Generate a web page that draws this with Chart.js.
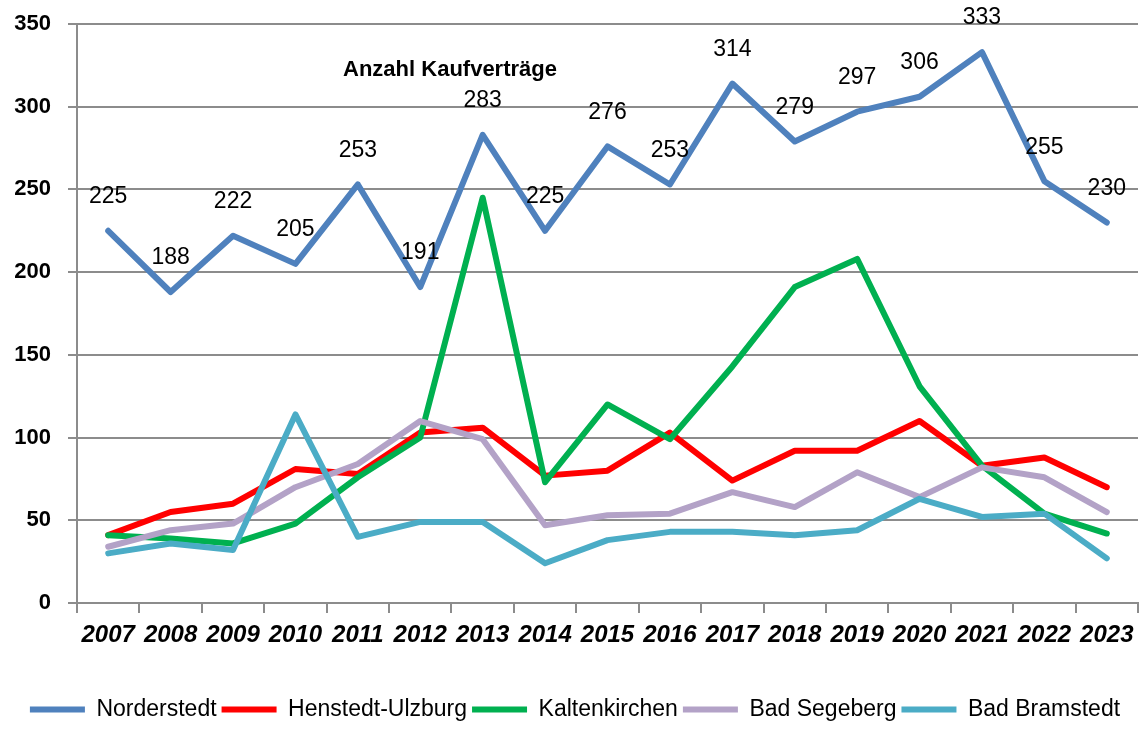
<!DOCTYPE html>
<html>
<head>
<meta charset="utf-8">
<script src="https://cdn.jsdelivr.net/npm/chart.js@4"></script>
<style>
  body { margin: 0; background: #fff; }
  #wrap { width: 1145px; height: 731px; position: relative; }
</style>
</head>
<body>
<div id="wrap"><canvas id="kaufChart"></canvas></div>
<script>
const YEARS = ["2007", "2008", "2009", "2010", "2011", "2012", "2013", "2014", "2015", "2016", "2017", "2018", "2019", "2020", "2021", "2022", "2023"];
const NORDERSTEDT = [225, 188, 222, 205, 253, 191, 283, 225, 276, 253, 314, 279, 297, 306, 333, 255, 230];
const HENSTEDT_ULZBURG = [41, 55, 60, 81, 78, 103, 106, 77, 80, 103, 74, 92, 92, 110, 83, 88, 70];
const KALTENKIRCHEN = [41, 39, 36, 48, 76, 100, 245, 73, 120, 99, 143, 191, 208, 131, 83, 54, 42];
const BAD_SEGEBERG = [34, 44, 48, 70, 84, 110, 99, 47, 53, 54, 67, 58, 79, 64, 82, 76, 55];
const BAD_BRAMSTEDT = [30, 36, 32, 114, 40, 49, 49, 24, 38, 43, 43, 41, 44, 63, 52, 54, 27];
const Y_TICKS = [0, 50, 100, 150, 200, 250, 300, 350];
const CHART_TITLE = "Anzahl Kaufverträge";

const GRID = "#8c8c8c";
const SANS = "'Liberation Sans', Arial, sans-serif";

function series(label, data, color, order) {
  return {
    label: label,
    data: data,
    borderColor: color,
    backgroundColor: color,
    borderWidth: 6,
    borderJoinStyle: "round",
    borderCapStyle: "round",
    pointRadius: 0,
    pointStyle: "line",
    tension: 0,
    order: order
  };
}

// value labels above the Norderstedt line + title inside the plot
const labelPlugin = {
  id: "valueLabels",
  afterDatasetsDraw(chart) {
    const ctx = chart.ctx;
    const meta = chart.getDatasetMeta(0);
    ctx.save();
    ctx.fillStyle = "#000";
    ctx.font = "23px " + SANS;
    ctx.textAlign = "center";
    ctx.textBaseline = "middle";
    meta.data.forEach((pt, i) => {
      ctx.fillText(String(NORDERSTEDT[i]), pt.x, pt.y - 34);
    });
    const area = chart.chartArea;
    ctx.font = "bold 22px " + SANS;
    ctx.fillText(CHART_TITLE, area.left + 373, area.top + 46);
    ctx.restore();
  }
};

new Chart(document.getElementById("kaufChart").getContext("2d"), {
  type: "line",
  data: {
    labels: YEARS,
    datasets: [
      series("Norderstedt", NORDERSTEDT, "#4f81bd", 5),
      series("Henstedt-Ulzburg", HENSTEDT_ULZBURG, "#ff0000", 4),
      series("Kaltenkirchen", KALTENKIRCHEN, "#00b050", 3),
      series("Bad Segeberg", BAD_SEGEBERG, "#b3a2c7", 2),
      series("Bad Bramstedt", BAD_BRAMSTEDT, "#4bacc6", 1)
    ]
  },
  options: {
    responsive: true,
    maintainAspectRatio: false,
    animation: false,
    layout: { padding: { left: 12, right: 7, top: 0, bottom: 0 } },
    plugins: {
      legend: {
        position: "bottom",
        labels: {
          usePointStyle: true,
          pointStyleWidth: 55,
          boxHeight: 6,
          padding: 5,
          color: "#000",
          font: { family: SANS, size: 23 },
          sort: (a, b) => a.datasetIndex - b.datasetIndex
        }
      },
      tooltip: { enabled: false }
    },
    scales: {
      x: {
        offset: true,
        grid: { display: true, offset: true, drawOnChartArea: false, drawTicks: true, tickLength: 10, color: GRID, lineWidth: 2 },
        border: { color: GRID, width: 2 },
        ticks: {
          color: "#000",
          maxRotation: 0,
          autoSkip: false,
          padding: 8,
          font: { family: SANS, size: 24, style: "italic", weight: "bold" }
        },
        afterFit(scale) { scale.height = 90; }
      },
      y: {
        min: 0,
        max: 350,
        afterBuildTicks(scale) { scale.ticks = Y_TICKS.map(v => ({ value: v })); },
        afterFit(scale) {
          scale.width = 65;
          scale.paddingTop = 24;
          scale.paddingBottom = 0;
        },
        grid: { color: GRID, lineWidth: 2, tickLength: 9 },
        border: { color: GRID, width: 2 },
        ticks: {
          color: "#000",
          padding: 17,
          font: { family: SANS, size: 22, weight: "bold" }
        }
      }
    }
  },
  plugins: [labelPlugin]
});
</script>
</body>
</html>
